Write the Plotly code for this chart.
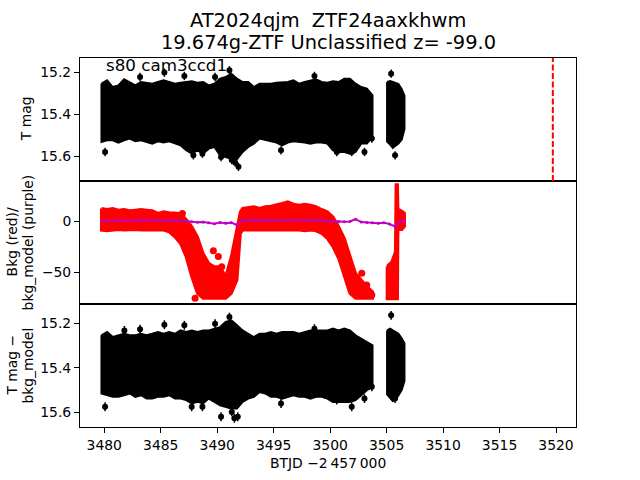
import plotly.graph_objects as go

# ---------------- data ----------------
t_main = [3479.75, 3480.25, 3480.75, 3481.25, 3481.75, 3482.25, 3482.75, 3483.25, 3483.75, 3484.25,
          3484.75, 3485.25, 3485.75, 3486.25, 3486.75, 3487.25, 3487.75, 3488.25, 3488.75, 3489.25,
          3489.75, 3490.25, 3490.75, 3491.25, 3491.75, 3492.25, 3492.75, 3493.25, 3493.75, 3494.25,
          3494.75, 3495.25, 3495.75, 3496.25, 3496.75, 3497.25, 3497.75, 3498.25, 3498.75, 3499.25,
          3499.75, 3500.25, 3500.75, 3501.25, 3501.75, 3502.25, 3502.75, 3503.25, 3503.75]
tmag_hi = [15.253, 15.237, 15.269, 15.261, 15.232, 15.245, 15.261, 15.245, 15.248, 15.253,
           15.245, 15.237, 15.245, 15.253, 15.248, 15.245, 15.241, 15.248, 15.245, 15.261,
           15.253, 15.229, 15.221, 15.205, 15.229, 15.245, 15.245, 15.269, 15.253, 15.253,
           15.253, 15.248, 15.245, 15.245, 15.237, 15.253, 15.245, 15.237, 15.232, 15.245,
           15.248, 15.241, 15.245, 15.229, 15.229, 15.253, 15.269, 15.277, 15.309]
tmag_lo = [15.532, 15.524, 15.524, 15.535, 15.524, 15.516, 15.529, 15.524, 15.532, 15.540,
           15.529, 15.535, 15.529, 15.540, 15.548, 15.572, 15.588, 15.572, 15.588, 15.564,
           15.556, 15.596, 15.605, 15.612, 15.615, 15.580, 15.556, 15.540, 15.516, 15.524,
           15.529, 15.535, 15.548, 15.535, 15.529, 15.532, 15.535, 15.540, 15.535, 15.535,
           15.540, 15.572, 15.580, 15.580, 15.588, 15.580, 15.540, 15.540, 15.508]
diff_hi = [15.254, 15.239, 15.262, 15.254, 15.247, 15.254, 15.254, 15.247, 15.254, 15.247,
           15.239, 15.247, 15.239, 15.247, 15.232, 15.239, 15.232, 15.239, 15.232, 15.232,
           15.224, 15.217, 15.194, 15.187, 15.209, 15.232, 15.247, 15.262, 15.247, 15.247,
           15.239, 15.247, 15.239, 15.239, 15.239, 15.247, 15.239, 15.232, 15.232, 15.232,
           15.232, 15.224, 15.232, 15.224, 15.232, 15.254, 15.269, 15.284, 15.299]
diff_lo = [15.516, 15.524, 15.531, 15.531, 15.524, 15.516, 15.531, 15.524, 15.539, 15.539,
           15.531, 15.531, 15.524, 15.539, 15.539, 15.546, 15.561, 15.554, 15.561, 15.539,
           15.554, 15.569, 15.576, 15.584, 15.584, 15.554, 15.539, 15.531, 15.509, 15.516,
           15.531, 15.531, 15.539, 15.531, 15.524, 15.531, 15.531, 15.539, 15.531, 15.531,
           15.539, 15.554, 15.554, 15.554, 15.554, 15.546, 15.524, 15.501, 15.486]

t_cluster = [3505.04, 3505.31, 3505.55, 3505.81, 3506.05, 3506.34, 3506.58]
tmag_cl_hi = [15.245, 15.240, 15.245, 15.250, 15.255, 15.280, 15.310]
tmag_cl_lo = [15.530, 15.545, 15.560, 15.550, 15.540, 15.520, 15.470]
diff_cl_hi = [15.232, 15.224, 15.232, 15.239, 15.247, 15.269, 15.290]
diff_cl_lo = [15.520, 15.535, 15.550, 15.540, 15.525, 15.500, 15.460]

out_top_t = [3480.07, 3483.17, 3485.32, 3487.09, 3489.81, 3491.08, 3491.88, 3491.29, 3491.58, 3490.34,
             3488.69, 3487.89, 3495.65, 3498.61, 3500.59, 3501.91, 3503.04, 3503.69, 3505.40, 3505.75]
out_top_mag = [15.580, 15.221, 15.200, 15.216, 15.221, 15.189, 15.651, 15.619, 15.630, 15.604,
               15.588, 15.596, 15.572, 15.216, 15.580, 15.580, 15.580, 15.516, 15.205, 15.596]
out_top_err = [0.02] * len(out_top_t)

out_bot_t = [3480.07, 3481.78, 3483.17, 3485.32, 3487.09, 3489.81, 3491.08, 3490.34, 3491.29, 3491.52,
             3491.82, 3488.69, 3487.74, 3495.65, 3498.61, 3500.59, 3501.91, 3503.04, 3503.69, 3505.40,
             3505.75]
out_bot_mag = [15.576, 15.232, 15.227, 15.206, 15.209, 15.202, 15.172, 15.621, 15.599, 15.628,
               15.621, 15.576, 15.576, 15.561, 15.224, 15.546, 15.576, 15.539, 15.486, 15.164,
               15.539]
out_bot_err = [0.02] * len(out_bot_t)

t_bkg = [3479.75, 3480.25, 3480.75, 3481.25, 3481.75, 3482.25, 3482.75, 3483.25, 3483.75, 3484.25,
         3484.75, 3485.25, 3485.75, 3486.25, 3486.75, 3487.25, 3487.75, 3488.25, 3488.75, 3489.25,
         3489.75, 3490.25, 3490.75, 3491.25, 3491.75, 3492.05, 3492.25, 3492.75, 3493.25, 3493.75,
         3494.25, 3494.75, 3495.25, 3495.75, 3496.25, 3496.75, 3497.25, 3497.75, 3498.25, 3498.75,
         3499.25, 3499.75, 3500.25, 3500.75, 3501.25, 3501.75, 3502.25, 3502.75, 3503.25, 3503.75]
bkg_hi = [12.7, 11.7, 12.7, 11.1, 11.7, 10.4, 11.1, 11.7, 11.1, 10.4,
          7.8, 9.4, 8.5, 7.8, 7.8, 1.9, -5.3, -15.1, -31.4, -41.2,
          -44.5, -44.5, -54.3, -34.7, -8.5, 9.4, 12.7, 13.7, 14.4, 12.7,
          14.4, 15.0, 16.0, 17.6, 19.2, 16.9, 16.0, 16.9, 16.0, 14.4,
          11.7, 9.4, 4.5, -5.3, -16.7, -34.7, -51.0, -57.5, -64.1, -69.0]
bkg_lo = [-8.5, -9.2, -8.5, -7.9, -8.5, -8.5, -7.9, -8.5, -8.5, -9.2,
          -8.5, -8.5, -10.2, -15.1, -21.6, -34.7, -54.3, -70.6, -75.5, -75.5,
          -75.5, -75.5, -75.5, -70.6, -57.5, -11.8, -8.5, -8.5, -8.5, -7.9,
          -7.9, -8.5, -8.5, -7.9, -8.5, -8.5, -8.5, -9.2, -8.5, -9.2,
          -11.8, -16.7, -24.9, -36.3, -54.3, -70.6, -75.5, -75.5, -75.5, -75.5]
t_bkg_cl = [3505.05, 3505.45, 3505.78, 3505.84, 3505.96, 3506.00, 3506.35, 3506.58]
bkg_cl_hi = [-44.0, -40.0, -30.0, 36.0, 36.0, 12.0, 10.0, 8.0]
bkg_cl_lo = [-76.0, -76.0, -76.0, -76.0, -76.0, -8.0, -8.0, -5.0]
bkg_pts_t = [3486.92, 3489.66, 3490.10, 3490.40, 3488.04, 3502.80, 3503.24, 3503.69]
bkg_pts_v = [7.8, -28.7, -34.4, -44.5, -75.5, -51.0, -62.4, -72.2]

t_model = [3479.75, 3480.25, 3480.75, 3481.25, 3481.75, 3482.25, 3482.75, 3483.25, 3483.75, 3484.25,
           3484.75, 3485.25, 3485.75, 3486.25, 3486.75, 3487.25, 3487.75, 3488.25, 3488.75, 3489.25,
           3489.75, 3490.25, 3490.75, 3491.25, 3491.75, 3492.25, 3492.75, 3493.25, 3493.75, 3494.25,
           3494.75, 3495.25, 3495.75, 3496.25, 3496.75, 3497.25, 3497.75, 3498.25, 3498.75, 3499.25,
           3499.75, 3500.25, 3500.75, 3501.25, 3501.75, 3502.25, 3502.75, 3503.25, 3503.75, 3504.25,
           3504.75, 3505.25, 3505.75, 3506.25, 3506.55]
bkg_model = [0.5, 0.8, 0.6, 0.9, 0.7, 1.0, 0.8, 1.1, 1.0, 0.9,
             1.2, 1.0, 0.8, 0.9, 0.6, 0.4, -0.2, -0.8, -0.5, -1.2,
             -2.2, -1.0, -1.8, -1.2, -3.5, 1.0, 1.3, 0.8, 1.0, 0.9,
             1.1, 0.8, 1.0, 1.2, 0.9, 1.1, 1.3, 1.0, 1.4, 1.1,
             0.6, 0.2, -0.2, -0.4, 0.0, 2.2, -0.6, -1.0, -1.4, -1.8,
             -1.2, -2.5, -4.8, 0.3, 0.5]

ref_line_t = 3519.72

x_range = [3477.85, 3521.77]
x_ticks = [3480, 3485, 3490, 3495, 3500, 3505, 3510, 3515, 3520]
y1_range = [15.719, 15.13]
y2_range = [-81.1, 39.7]
y3_range = [15.667, 15.113]
mag_ticks = [15.2, 15.4, 15.6]
bkg_ticks = [-50, 0]

# ---------------- figure ----------------
FONT = "DejaVu Sans"
L, R, T, B = 80, 64, 58, 53
W, H = 640, 480
PW, PH = W - L - R, H - T - B


def px_x(x):
    return (x - L) / PW


def px_y(y):
    return (H - B - y) / PH


def band(ts, hi, lo, ts2, hi2, lo2):
    xs = list(ts) + list(reversed(ts)) + [ts[0]] + [None] + list(ts2) + list(reversed(ts2)) + [ts2[0]]
    ys = list(hi) + list(reversed(lo)) + [hi[0]] + [None] + list(hi2) + list(reversed(lo2)) + [hi2[0]]
    return xs, ys


fig = go.Figure()

# top panel
bx, by = band(t_main, tmag_hi, tmag_lo, t_cluster, tmag_cl_hi, tmag_cl_lo)
fig.add_trace(go.Scatter(x=bx, y=by, mode="lines", fill="toself", fillcolor="black",
                         line=dict(color="black", width=2), xaxis="x", yaxis="y",
                         hoverinfo="skip", showlegend=False))
fig.add_trace(go.Scatter(x=out_top_t, y=out_top_mag, mode="markers",
                         marker=dict(color="black", size=6),
                         error_y=dict(type="data", array=out_top_err, color="black", thickness=1.5, width=0),
                         xaxis="x", yaxis="y", showlegend=False))

# middle panel
rx, ry = band(t_bkg, bkg_hi, bkg_lo, t_bkg_cl, bkg_cl_hi, bkg_cl_lo)
fig.add_trace(go.Scatter(x=rx, y=ry, mode="lines", fill="toself", fillcolor="#ff0000",
                         line=dict(color="#ff0000", width=3), xaxis="x2", yaxis="y2",
                         hoverinfo="skip", showlegend=False))
fig.add_trace(go.Scatter(x=bkg_pts_t, y=bkg_pts_v, mode="markers",
                         marker=dict(color="#ff0000", size=7),
                         xaxis="x2", yaxis="y2", showlegend=False))
fig.add_trace(go.Scatter(x=t_model, y=bkg_model, mode="lines+markers",
                         line=dict(color="#bf00bf", width=2), marker=dict(color="#bf00bf", size=3),
                         xaxis="x2", yaxis="y2", showlegend=False))

# bottom panel
dx, dy = band(t_main, diff_hi, diff_lo, t_cluster, diff_cl_hi, diff_cl_lo)
fig.add_trace(go.Scatter(x=dx, y=dy, mode="lines", fill="toself", fillcolor="black",
                         line=dict(color="black", width=2), xaxis="x3", yaxis="y3",
                         hoverinfo="skip", showlegend=False))
fig.add_trace(go.Scatter(x=out_bot_t, y=out_bot_mag, mode="markers",
                         marker=dict(color="black", size=6),
                         error_y=dict(type="data", array=out_bot_err, color="black", thickness=1.5, width=0),
                         xaxis="x3", yaxis="y3", showlegend=False))

fig.add_shape(type="line", x0=ref_line_t, x1=ref_line_t, xref="x", y0=0, y1=1, yref="y domain",
              line=dict(color="#ff0000", width=2, dash="6px,2.5px"))

axis_common = dict(showline=True, mirror=True, linecolor="black", linewidth=1,
                   showgrid=False, zeroline=False)
tickfont = dict(family=FONT, size=13.9, color="black")

fig.update_layout(
    width=W, height=H, margin=dict(l=L, r=R, t=T, b=B),
    paper_bgcolor="white", plot_bgcolor="white", showlegend=False, hovermode=False,
    xaxis=dict(domain=[0, 1], anchor="y", range=x_range, ticks="", showticklabels=False, **axis_common),
    xaxis2=dict(domain=[0, 1], anchor="y2", range=x_range, ticks="", showticklabels=False, **axis_common),
    xaxis3=dict(domain=[0, 1], anchor="y3", range=x_range, tickvals=x_ticks,
                ticktext=[str(v) for v in x_ticks], ticks="outside", ticklen=5, tickwidth=1,
                tickcolor="black", tickfont=tickfont, **axis_common),
    yaxis=dict(domain=[2 / 3, 1], anchor="x", range=y1_range, tickvals=mag_ticks,
               ticktext=["%.1f" % v for v in mag_ticks], ticks="outside", ticklen=5, tickwidth=1,
               tickcolor="black", tickfont=tickfont, **axis_common),
    yaxis2=dict(domain=[1 / 3, 2 / 3], anchor="x2", range=y2_range, tickvals=bkg_ticks,
                ticktext=[("\u2212%d" % -v) if v < 0 else "%d" % v for v in bkg_ticks],
                ticks="outside", ticklen=5, tickwidth=1, tickcolor="black", tickfont=tickfont,
                **axis_common),
    yaxis3=dict(domain=[0, 1 / 3], anchor="x3", range=y3_range, tickvals=mag_ticks,
                ticktext=["%.1f" % v for v in mag_ticks], ticks="outside", ticklen=5, tickwidth=1,
                tickcolor="black", tickfont=tickfont, **axis_common),
)

ann = []
title_font = dict(family=FONT, size=19.4, color="black")
ann.append(dict(text="AT2024qjm  ZTF24aaxkhwm", x=px_x(328), y=px_y(20), font=title_font))
ann.append(dict(text="19.674g-ZTF Unclassified z= -99.0", x=px_x(328), y=px_y(43), font=title_font))
ann.append(dict(text="s80 cam3ccd1", x=px_x(104), y=px_y(65), xanchor="left",
                font=dict(family=FONT, size=16.7, color="black")))
lab_font = dict(family=FONT, size=13.9, color="black")
ann.append(dict(text="T mag", x=px_x(26), y=px_y(119.2), textangle=-90, font=lab_font))
ann.append(dict(text="Bkg (red)/", x=px_x(12), y=px_y(242.4), textangle=-90, font=lab_font))
ann.append(dict(text="bkg_model (purple)", x=px_x(28), y=px_y(242.4), textangle=-90, font=lab_font))
ann.append(dict(text="T mag \u2212", x=px_x(12), y=px_y(365.6), textangle=-90, font=lab_font))
ann.append(dict(text="bkg_model", x=px_x(28), y=px_y(365.6), textangle=-90, font=lab_font))
ann.append(dict(text="BTJD \u22122\u2009457\u2009000", x=px_x(328), y=px_y(463), font=lab_font))
for a in ann:
    a.setdefault("xanchor", "center")
    a.setdefault("yanchor", "middle")
    a.update(xref="paper", yref="paper", showarrow=False)
fig.update_layout(annotations=ann)

fig.write_html("out.html", config={"displayModeBar": False, "staticPlot": True},
               post_script="document.body.style.margin='0px';")
